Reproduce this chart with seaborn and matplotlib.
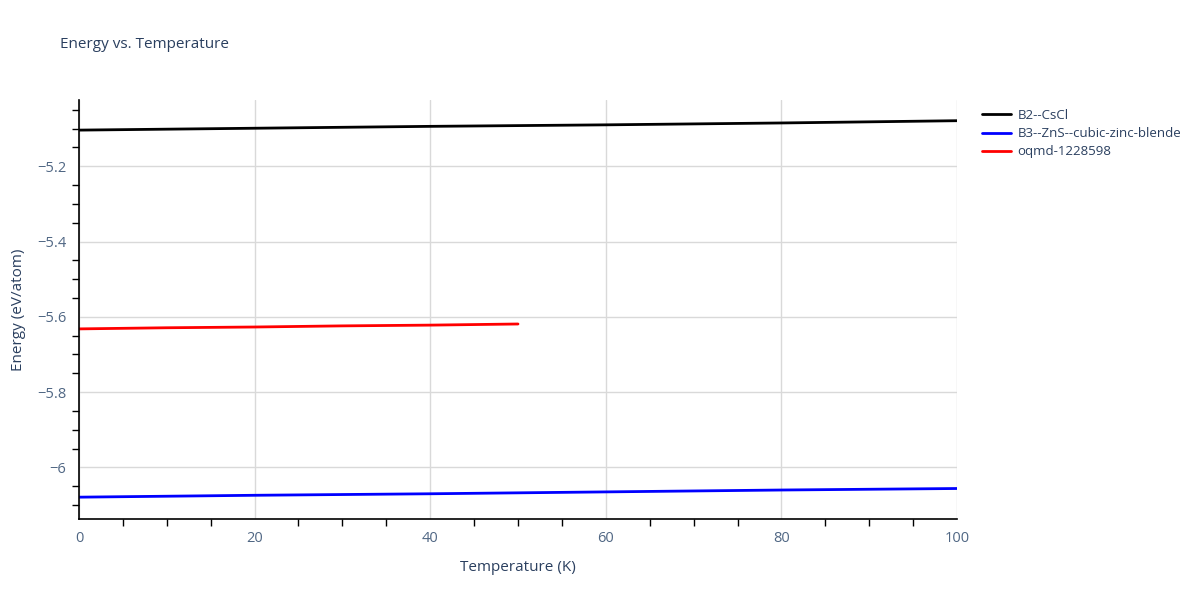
import matplotlib
matplotlib.use("Agg")
import matplotlib.pyplot as plt
from matplotlib.ticker import MultipleLocator
import seaborn as sns
import pandas as pd

temps_b2 = [0, 20, 40, 60, 80, 100]
energy_b2 = [-5.104, -5.099, -5.094, -5.090, -5.085, -5.079]
temps_b3 = [0, 20, 40, 60, 80, 100]
energy_b3 = [-6.079, -6.074, -6.070, -6.065, -6.060, -6.056]
temps_oq = [0, 10, 20, 30, 40, 50]
energy_oq = [-5.632, -5.629, -5.627, -5.624, -5.622, -5.619]
names = ["B2--CsCl", "B3--ZnS--cubic-zinc-blende", "oqmd-1228598"]
colors = ["#000000", "#0000ff", "#ff0000"]

df = pd.concat([
    pd.DataFrame({"T": temps_b2, "E": energy_b2, "s": names[0]}),
    pd.DataFrame({"T": temps_b3, "E": energy_b3, "s": names[1]}),
    pd.DataFrame({"T": temps_oq, "E": energy_oq, "s": names[2]}),
])

sns.set_style("white")
plt.rcParams["font.family"] = ["Open Sans", "DejaVu Sans"]
txt = "#2a3f5f"

fig = plt.figure(figsize=(12, 6), dpi=100)
ax = fig.add_axes([79/1200, 1-519/600, (957-79)/1200, (519-100)/600])
sns.lineplot(data=df, x="T", y="E", hue="s", palette=dict(zip(names, colors)),
             linewidth=2, ax=ax, legend=True)

ax.set_xlim(0, 100)
ax.set_ylim(-6.137, -5.024)
ax.xaxis.set_major_locator(MultipleLocator(20))
ax.xaxis.set_minor_locator(MultipleLocator(5))
ax.yaxis.set_major_locator(MultipleLocator(0.2))
ax.yaxis.set_minor_locator(MultipleLocator(0.05))
ax.set_yticks([-6.0, -5.8, -5.6, -5.4, -5.2])
ax.set_yticklabels(["\u22126", "\u22125.8", "\u22125.6", "\u22125.4", "\u22125.2"])
ax.grid(True, which="major", color="#d9d9d9", linewidth=1)
for sp in ["top", "right"]:
    ax.spines[sp].set_visible(False)
for sp in ["left", "bottom"]:
    ax.spines[sp].set_color("black")
    ax.spines[sp].set_linewidth(1.2)
ax.tick_params(which="both", direction="out", color="black", labelcolor="#506784", labelsize=10.5)
ax.tick_params(which="major", length=5, width=1, pad=4)
ax.tick_params(which="minor", length=5, width=1, bottom=True, left=True)
ax.set_xlabel("Temperature (K)", color=txt, fontsize=11, labelpad=10)
ax.set_ylabel("Energy (eV/atom)", color=txt, fontsize=11, labelpad=8)

fig.text(60/1200, 1-45/600, "Energy vs. Temperature", color=txt, fontsize=11, va="center")

leg = ax.legend(loc="upper left", bbox_to_anchor=(970/1200, 1-97/600),
                bbox_transform=fig.transFigure, frameon=False, fontsize=9.5,
                handlelength=2.2, handletextpad=0.5, labelspacing=0.4, title=None)
for t in leg.get_texts():
    t.set_color(txt)

fig.savefig("out.png", dpi=100)
